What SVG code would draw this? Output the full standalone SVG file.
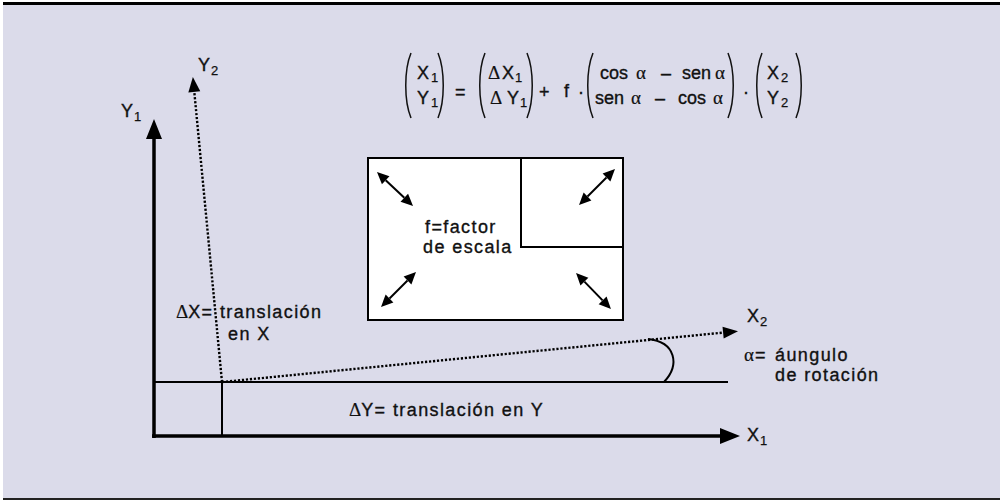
<svg xmlns="http://www.w3.org/2000/svg" width="1000" height="500" viewBox="0 0 1000 500">
<style>
  .lbl { font-family: "Liberation Sans", Arial, sans-serif; font-size: 18px; fill: #111; stroke: #111; stroke-width: 0.35; letter-spacing: 1.4px; }
  .eq { font-family: "Liberation Sans", Arial, sans-serif; font-size: 18px; fill: #111; stroke: #111; stroke-width: 0.35; }
  .sub { font-family: "Liberation Sans", Arial, sans-serif; font-size: 13px; fill: #111; stroke: #111; stroke-width: 0.25; }
  .gr { font-family: "Liberation Serif", "Times New Roman", serif; font-size: 19px; fill: #111; stroke: #111; stroke-width: 0.2; }
  .paren { fill: none; stroke: #111; stroke-width: 1.5; }
  .axis { stroke: #000; stroke-width: 3.5; fill: none; }
  .thin { stroke: #000; stroke-width: 2; fill: none; }
  .dot { stroke: #000; stroke-width: 2.4; stroke-dasharray: 2.2 1.8; fill: none; }
</style>
<defs>
  <marker id="headBig" markerUnits="userSpaceOnUse" markerWidth="22" markerHeight="18" refX="0" refY="8" orient="auto" overflow="visible">
    <path d="M0,0 L20,8 L0,16 Z" fill="#000"/>
  </marker>
  <marker id="headDot" markerUnits="userSpaceOnUse" markerWidth="18" markerHeight="14" refX="0" refY="6" orient="auto" overflow="visible">
    <path d="M0,0 L15,6 L0,12 Z" fill="#000"/>
  </marker>
  <marker id="headSm" markerUnits="userSpaceOnUse" markerWidth="14" markerHeight="12" refX="0" refY="5.5" orient="auto-start-reverse" overflow="visible">
    <path d="M0,0 L12,5.5 L0,11 Z" fill="#000"/>
  </marker>
</defs>

<rect x="0" y="0" width="1000" height="500" fill="#ffffff"/>
<rect x="3" y="4" width="997" height="494" fill="#dbdbea"/>
<rect x="3" y="2" width="997" height="3" fill="#000"/>
<rect x="3" y="498" width="997" height="2" fill="#222"/>

<g id="connectors">
  <line class="axis" x1="154" y1="438" x2="154" y2="139" marker-end="url(#headBig)"/>
  <line class="axis" x1="152" y1="436" x2="720" y2="436" marker-end="url(#headBig)"/>
  <line class="thin" x1="154" y1="382" x2="728" y2="382"/>
  <line class="thin" x1="222" y1="382" x2="222" y2="437"/>
  <line class="dot" x1="222" y1="382" x2="194.3" y2="91.9" marker-end="url(#headDot)"/>
  <line class="dot" x1="222" y1="382" x2="723.1" y2="332.6" marker-end="url(#headDot)"/>
  <path class="thin" d="M664,382 C680,365 676,342 648,339"/>
</g>

<g id="equation">
  <path class="paren" d="M411,53 C404,70 404,101 411,118"/>
  <path class="paren" d="M438,53 C445,70 445,101 438,118"/>
  <text class="eq" x="417" y="79">X</text><text class="sub" x="431" y="82">1</text>
  <text class="eq" x="417" y="104">Y</text><text class="sub" x="431" y="107">1</text>
  <text class="eq" x="455" y="98">=</text>
  <path class="paren" d="M485,53 C478,70 478,101 485,118"/>
  <path class="paren" d="M527,53 C534,70 534,101 527,118"/>
  <text class="gr" x="488" y="79">Δ</text><text class="eq" x="502" y="79">X</text><text class="sub" x="515" y="82">1</text>
  <text class="gr" x="490" y="104">Δ</text><text class="eq" x="507" y="104">Y</text><text class="sub" x="520" y="107">1</text>
  <text class="eq" x="539" y="98">+</text>
  <text class="eq" x="564" y="97">f</text>
  <text class="eq" x="578" y="98">·</text>
  <path class="paren" d="M593,53 C586,70 586,101 593,118"/>
  <path class="paren" d="M728,53 C735,70 735,101 728,118"/>
  <text class="eq" x="600" y="79">cos</text><text class="gr" x="636" y="79">α</text>
  <text class="eq" x="661" y="79">–</text>
  <text class="eq" x="682" y="79">sen</text><text class="gr" x="715" y="79">α</text>
  <text class="eq" x="595" y="104">sen</text><text class="gr" x="631" y="104">α</text>
  <text class="eq" x="655" y="104">–</text>
  <text class="eq" x="678" y="104">cos</text><text class="gr" x="713" y="104">α</text>
  <text class="eq" x="743" y="98">·</text>
  <path class="paren" d="M762,53 C755,70 755,101 762,118"/>
  <path class="paren" d="M796,53 C803,70 803,101 796,118"/>
  <text class="eq" x="767" y="79">X</text><text class="sub" x="781" y="82">2</text>
  <text class="eq" x="767" y="104">Y</text><text class="sub" x="781" y="107">2</text>
</g>

<g id="scale-box">
  <rect x="368" y="158" width="255" height="162" fill="#fff" stroke="#000" stroke-width="2"/>
  <rect x="521" y="158" width="102" height="89" fill="none" stroke="#000" stroke-width="2"/>
  <line class="thin" x1="385.7" y1="180.2" x2="404.3" y2="197.8" marker-start="url(#headSm)" marker-end="url(#headSm)"/>
  <line class="thin" x1="606.5" y1="177.5" x2="587.5" y2="196.5" marker-start="url(#headSm)" marker-end="url(#headSm)"/>
  <line class="thin" x1="407.5" y1="280.5" x2="389.5" y2="298.5" marker-start="url(#headSm)" marker-end="url(#headSm)"/>
  <line class="thin" x1="584.4" y1="281.6" x2="602.6" y2="300.4" marker-start="url(#headSm)" marker-end="url(#headSm)"/>
  <text class="lbl" x="425" y="233">f=factor</text>
  <text class="lbl" x="423" y="253">de escala</text>
</g>

<g id="axis-labels">
  <text class="eq" x="121" y="117">Y</text><text class="sub" x="134" y="121">1</text>
  <text class="eq" x="198" y="71">Y</text><text class="sub" x="211" y="75">2</text>
  <text class="eq" x="747" y="322">X</text><text class="sub" x="760" y="326">2</text>
  <text class="eq" x="747" y="441">X</text><text class="sub" x="760" y="445">1</text>
</g>

<g id="translation-x">
  <text class="lbl" x="176" y="318"><tspan class="gr" style="letter-spacing:0">Δ</tspan>X= translación</text>
  <text class="lbl" x="228" y="340">en X</text>
</g>

<g id="translation-y">
  <text class="lbl" x="349" y="416"><tspan class="gr" style="letter-spacing:0">Δ</tspan>Y= translación en Y</text>
</g>

<g id="rotation">
  <text class="gr" x="744" y="361">α</text><text class="eq" x="755" y="361">=</text>
  <text class="lbl" x="775" y="361">áungulo</text>
  <text class="lbl" x="775" y="381">de rotación</text>
</g>
</svg>
